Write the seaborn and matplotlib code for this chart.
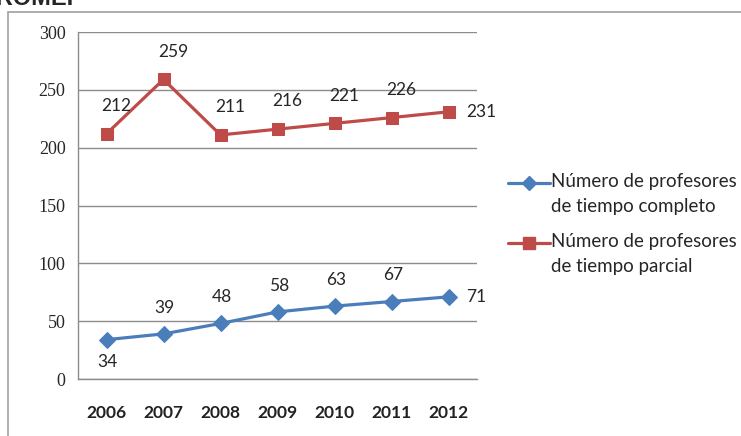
import matplotlib

matplotlib.use("Agg")

import matplotlib.pyplot as plt
import pandas as pd
import seaborn as sns
from matplotlib.lines import Line2D
from matplotlib.patches import Rectangle

years = ["2006", "2007", "2008", "2009", "2010", "2011", "2012"]
completo = [34, 39, 48, 58, 63, 67, 71]
parcial = [212, 259, 211, 216, 221, 226, 231]
label_completo = "Número de profesores\nde tiempo completo"
label_parcial = "Número de profesores\nde tiempo parcial"

BLUE = "#4A7EBB"
RED = "#BE4B48"
GRID = "#8C8C8C"
W, H = 741, 436

sns.set_style("white")
plt.rcParams["font.family"] = ["Lato", "DejaVu Sans"]

fig = plt.figure(figsize=(W / 100, H / 100), dpi=100)
ax = fig.add_axes([78 / W, 1 - 379 / H, 399 / W, 347 / H])

pos = list(range(len(years)))
df = pd.DataFrame({"pos": pos, "completo": completo, "parcial": parcial})

sns.lineplot(data=df, x="pos", y="completo", ax=ax, color=BLUE, lw=2.3,
             marker="D", markersize=8, markeredgecolor=BLUE, legend=False)
sns.lineplot(data=df, x="pos", y="parcial", ax=ax, color=RED, lw=2.3,
             marker="s", markersize=9, markeredgecolor=RED, legend=False)

# data labels, Excel-style offsets
LBL = 12.5
for i, v in enumerate(completo):
    if i == len(pos) - 1:
        off, ha = (13, 0), "left"
    elif i == 0:
        off, ha = (1, -16), "center"
    else:
        off, ha = (1, 19), "center"
    ax.annotate(str(v), (i, v), xytext=off, textcoords="offset points",
                ha=ha, va="center", fontsize=LBL)
for i, v in enumerate(parcial):
    if i == len(pos) - 1:
        off, ha = (13, 0), "left"
    else:
        off, ha = (7, 20), "center"
    ax.annotate(str(v), (i, v), xytext=off, textcoords="offset points",
                ha=ha, va="center", fontsize=LBL)

ax.set_xlim(-0.5, len(pos) - 0.5)
ax.set_ylim(0, 300)
ax.set_yticks(range(0, 301, 50))
ax.set_xticks([p - 0.5 for p in pos] + [len(pos) - 0.5])
ax.set_xticklabels([])
ax.set_xticks(pos, minor=True)
ax.set_xticklabels(years, minor=True, fontsize=12.5, fontweight="bold",
                   color="#222222")
ax.tick_params(axis="x", which="minor", length=0, pad=19)
ax.tick_params(axis="x", which="major", length=5, color=GRID, direction="out")
ax.tick_params(axis="y", length=5, color=GRID, direction="out", pad=4)
for t in ax.get_yticklabels():
    t.set_family(["Liberation Serif", "DejaVu Serif"])
    t.set_fontsize(13)
ax.set_xlabel("")
ax.set_ylabel("")
ax.grid(axis="y", color=GRID, lw=1)
ax.grid(axis="x", visible=False)
for s in ("top", "right"):
    ax.spines[s].set_visible(False)
for s in ("left", "bottom"):
    ax.spines[s].set_color(GRID)
    ax.spines[s].set_linewidth(1)

# legend drawn by hand: Excel aligns the key with the first text line
for y_px, color, marker, ms, text in ((183, BLUE, "D", 7, label_completo),
                                      (243, RED, "s", 9, label_parcial)):
    y = 1 - y_px / H
    fig.lines.append(Line2D([508 / W, 529 / W, 550 / W], [y, y, y],
                            transform=fig.transFigure, color=color, lw=2.3,
                            marker=marker, markersize=ms, markevery=[1],
                            markeredgecolor=color))
    fig.text(551 / W, y + 10 / H, text, fontsize=13.5, ha="left", va="top",
             linespacing=1.55)

# outer chart border and the cut-off heading above it
fig.patches.append(Rectangle((8 / W, -0.1), 1.0, 1 - 12 / H + 0.1,
                             transform=fig.transFigure, fill=False,
                             edgecolor="#A0A0A0", lw=1.2))
fig.text(-20 / W, 1 - 5 / H, "PROMEP", fontsize=17, fontweight="bold",
         family=["Liberation Sans", "DejaVu Sans"], ha="left", va="baseline")

fig.savefig("out.png", dpi=100)
